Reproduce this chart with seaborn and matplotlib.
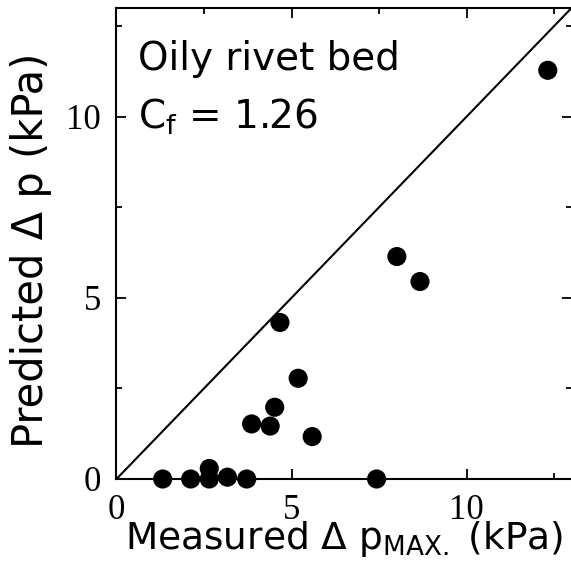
import matplotlib
matplotlib.use("Agg")
import matplotlib.pyplot as plt
from matplotlib.ticker import MultipleLocator
import seaborn as sns
import pandas as pd

# Measured vs. predicted pressure drop (kPa), oily rivet bed
measured = [1.32, 2.12, 2.65, 2.65, 3.17, 3.72, 3.86, 4.39, 4.52, 4.67,
            5.19, 5.59, 7.43, 8.01, 8.67, 12.32]
predicted = [0.00, 0.00, 0.29, 0.00, 0.05, 0.00, 1.52, 1.46, 1.98, 4.32,
             2.78, 1.17, 0.00, 6.14, 5.45, 11.28]
x_ticks = [0, 5, 10]
y_ticks = [0, 5, 10]
bed_label = "Oily rivet bed"
cf_value = 1.26

sns.set_theme(style="ticks")
plt.rcParams["font.family"] = ["DejaVu Sans"]
plt.rcParams["mathtext.fontset"] = "dejavusans"

fig = plt.figure(figsize=(5.71, 5.87), dpi=100, facecolor="white")
ax = fig.add_axes([0.204, 0.184, 0.797, 0.8024])
ax.set_facecolor("white")

df = pd.DataFrame({"measured": measured, "predicted": predicted})

# parity line y = x
ax.axline((0, 0), slope=1, color="black", lw=1.5, zorder=1)
sns.scatterplot(data=df, x="measured", y="predicted", color="black",
                s=190, edgecolor="none", ax=ax, clip_on=False, zorder=3)

ax.set_xlim(0, 13)
ax.set_ylim(0, 13)
ax.set_xticks(x_ticks)
ax.set_yticks(y_ticks)
ax.xaxis.set_minor_locator(MultipleLocator(2.5))
ax.yaxis.set_minor_locator(MultipleLocator(2.5))

ax.tick_params(which="both", direction="in", top=True, right=True,
               width=1.3, color="black", labelcolor="black")
ax.tick_params(which="major", length=7, labelsize=25,
               labelfontfamily="Liberation Serif")
ax.tick_params(which="minor", length=4)
ax.tick_params(axis="x", pad=11)
ax.tick_params(axis="y", pad=11)

for spine in ax.spines.values():
    spine.set_linewidth(1.5)
    spine.set_color("black")
ax.spines["right"].set_visible(False)

ax.set_xlabel(r"Measured Δ p$_{\mathrm{MAX.}}$ (kPa)", fontsize=27, color="black")
ax.set_ylabel("Predicted Δ p (kPa)", fontsize=30, color="black")
ax.xaxis.set_label_coords(0.5, -0.084)
ax.yaxis.set_label_coords(-0.142, 0.486)

ax.text(0.047, 0.868, bed_label, transform=ax.transAxes, fontsize=28,
        va="baseline", ha="left", color="black")
ax.text(0.047, 0.743, f"C$_\\mathrm{{f}}$ = {cf_value}", transform=ax.transAxes,
        fontsize=28, va="baseline", ha="left", color="black")

fig.savefig("out.png", dpi=100, facecolor="white")
